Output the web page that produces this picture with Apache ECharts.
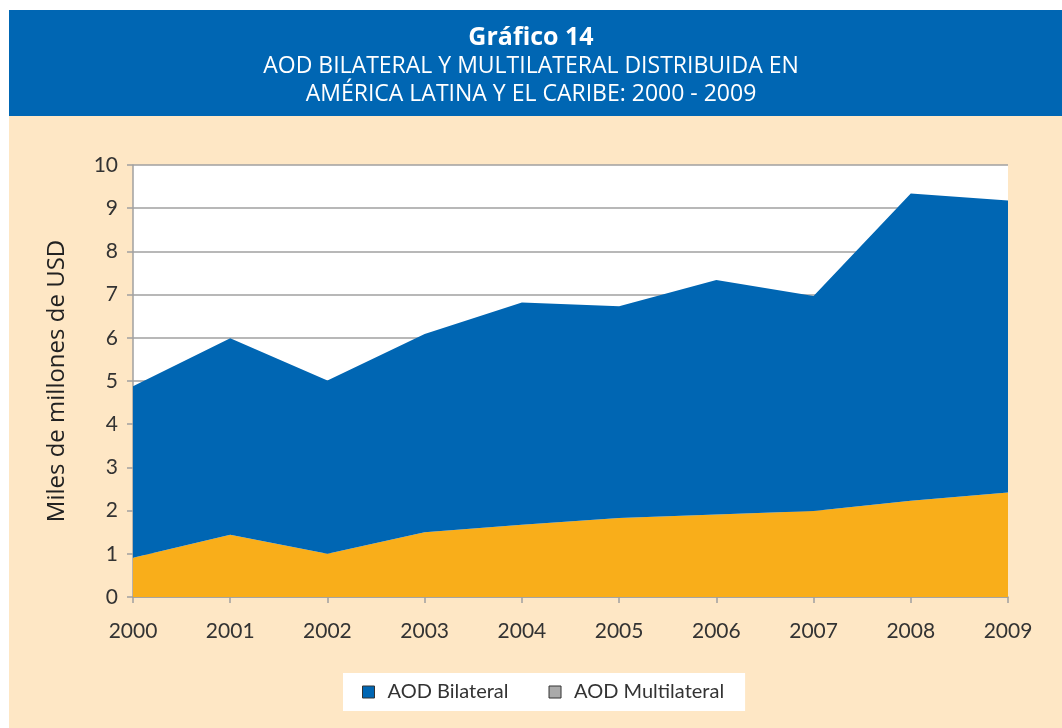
<!DOCTYPE html>
<html>
<head>
<meta charset="utf-8">
<script src="https://cdn.jsdelivr.net/npm/echarts@6/dist/echarts.min.js"></script>
<style>
  html, body { margin: 0; padding: 0; background: #fff; }
  #wrap { position: relative; width: 1062px; height: 728px; }
  .band { position: absolute; left: 9px; top: 10px; width: 1053px; height: 106px; background: #0066b3; }
  .paper { position: absolute; left: 9px; top: 116px; width: 1053px; height: 612px; background: #fee7c5; }
  #chart { position: absolute; left: 0; top: 0; width: 1062px; height: 728px; }
</style>
</head>
<body>
<div id="wrap">
  <div class="band"></div>
  <div class="paper"></div>
  <div id="chart"></div>
</div>
<script>
// 年份
var years = ["2000", "2001", "2002", "2003", "2004", "2005", "2006", "2007", "2008", "2009"];
// AOD Multilateral (parte inferior, naranja)
var multilateral = [0.91, 1.44, 1.0, 1.5, 1.67, 1.83, 1.91, 1.99, 2.23, 2.42];
// AOD Bilateral (apilado encima, azul)
var bilateral = [3.97, 4.55, 4.01, 4.59, 5.15, 4.90, 5.43, 4.98, 7.11, 6.76];
// etiquetas del eje Y
var yTicks = ["0", "1", "2", "3", "4", "5", "6", "7", "8", "9", "10"];

var font = "Lato";
var titleFont = "Open Sans";
var myChart = echarts.init(document.getElementById("chart"));
var option = {
  backgroundColor: "transparent",
  textStyle: { fontFamily: font },
  title: [
    {
      text: "Gráfico 14",
      left: "center",
      top: 20,
      textStyle: { color: "#fff", fontSize: 25, fontWeight: "bold", fontFamily: titleFont }
    },
    {
      text: "AOD BILATERAL Y MULTILATERAL DISTRIBUIDA EN",
      left: "center",
      top: 47,
      textStyle: { color: "#fff", fontSize: 23, fontWeight: "normal", lineHeight: 28, fontFamily: titleFont }
    },
    {
      text: "AMÉRICA LATINA Y EL CARIBE: 2000 - 2009",
      left: "center",
      top: 75,
      textStyle: { color: "#fff", fontSize: 23, fontWeight: "normal", lineHeight: 28, fontFamily: titleFont }
    }
  ],
  legend: {
    left: 343,
    top: 673,
    backgroundColor: "#fff",
    padding: [9, 21, 9, 19],
    itemGap: 40,
    itemWidth: 12,
    itemHeight: 12,
    icon: "rect",
    textStyle: { fontSize: 20, color: "#333", fontFamily: font, padding: [0, 0, 0, 8] },
    data: [
      { name: "AOD Bilateral", itemStyle: { color: "#0066b3", borderColor: "#333", borderWidth: 1 } },
      { name: "AOD Multilateral", itemStyle: { color: "#aaaaaa", borderColor: "#333", borderWidth: 1 } }
    ]
  },
  grid: {
    left: 133,
    right: 54,
    top: 165,
    bottom: 131,
    show: true,
    backgroundColor: "#fff",
    borderWidth: 0
  },
  xAxis: {
    type: "category",
    boundaryGap: false,
    data: years,
    axisLine: { lineStyle: { color: "#a0a0a0", width: 1.5 } },
    axisTick: { show: true, length: 6, lineStyle: { color: "#a0a0a0", width: 1.5 } },
    axisLabel: { fontSize: 21, color: "#333", margin: 24, fontFamily: font }
  },
  yAxis: {
    type: "value",
    min: 0,
    max: 10,
    interval: 1,
    name: "Miles de millones de USD",
    nameLocation: "middle",
    nameGap: 64,
    nameRotate: 90,
    nameTextStyle: { fontSize: 24, color: "#222", fontFamily: titleFont },
    axisLine: { show: true, lineStyle: { color: "#a0a0a0", width: 1.5 } },
    axisTick: { show: true, length: 6, lineStyle: { color: "#a0a0a0", width: 1.5 } },
    splitLine: { lineStyle: { color: "#a0a0a0", width: 1.5 } },
    axisLabel: {
      fontSize: 21,
      color: "#333",
      margin: 15,
      fontFamily: font,
      formatter: function (v) { return yTicks[v]; }
    }
  },
  series: [
    {
      name: "AOD Multilateral",
      type: "line",
      stack: "total",
      data: multilateral,
      showSymbol: false,
      lineStyle: { width: 0 },
      itemStyle: { color: "#f9ae1a" },
      areaStyle: { color: "#f9ae1a", opacity: 1 },
      z: 2
    },
    {
      name: "AOD Bilateral",
      type: "line",
      stack: "total",
      data: bilateral,
      showSymbol: false,
      lineStyle: { width: 0 },
      itemStyle: { color: "#0066b3" },
      areaStyle: { color: "#0066b3", opacity: 1 },
      z: 2
    }
  ]
};
myChart.setOption(option);
</script>
</body>
</html>
